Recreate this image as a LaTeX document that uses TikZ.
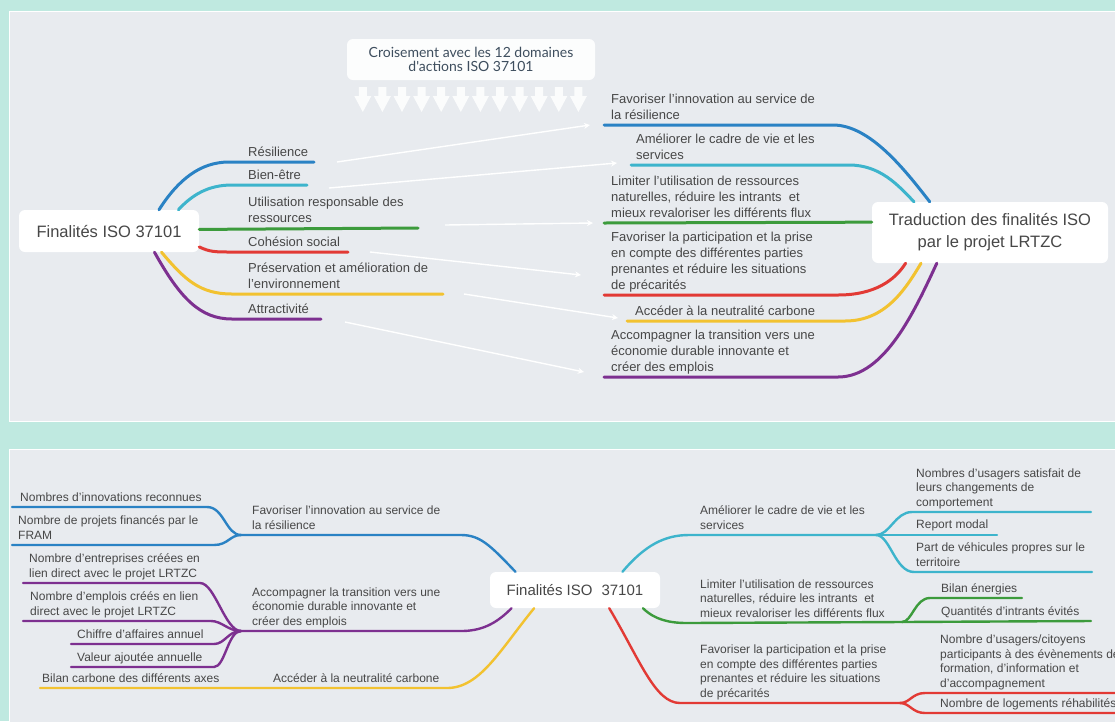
\documentclass[tikz,border=0pt]{standalone}
\usepackage{fontspec}
\setmainfont{Liberation Sans}
\newfontfamily\latofont{Lato}
\usetikzlibrary{arrows.meta}

\definecolor{menthe}{HTML}{BFE9E0}
\definecolor{panneau}{HTML}{E8EBEF}
\definecolor{bleu}{HTML}{2A82C4}
\definecolor{turq}{HTML}{3DB4CC}
\definecolor{vert}{HTML}{3C9B3C}
\definecolor{rouge}{HTML}{E23A35}
\definecolor{jaune}{HTML}{F2C230}
\definecolor{violet}{HTML}{7D3090}
\definecolor{texte}{HTML}{474747}
\definecolor{titre}{HTML}{3E4E5E}

\begin{document}
\begin{tikzpicture}[x=1pt, y=-1pt,
    boite/.style={fill=white, rounded corners=6pt, inner sep=0pt, align=center, text=texte},
    etiq/.style={anchor=south west, inner sep=0pt, align=left, text=texte,
        font=\fontsize{13}{16}\selectfont, execute at end node=\strut},
    etiqb/.style={etiq, font=\fontsize{12}{14.5}\selectfont},
    branche/.style={line width=3pt, line cap=round},
    brancheb/.style={line width=2.4pt, line cap=round},
    lien/.style={white, line width=1.4pt, -{Stealth[length=6pt,width=6pt]}}]

    % 背景
    \fill[menthe] (0,0) rectangle (1115,721);
    \useasboundingbox (0,0) rectangle (1115,721);
    \filldraw[fill=panneau, draw=white, line width=1pt] (9,11) rectangle (1125,421);
    \filldraw[fill=panneau, draw=white, line width=1pt] (9,449) rectangle (1125,730);

    % ===== 上图 =====
    \node[boite, minimum width=180pt, minimum height=42pt,
        font=\fontsize{16.5}{20}\selectfont] (fin) at (109,231) {Finalités ISO 37101};
    \node[boite, minimum width=236pt, minimum height=61pt,
        font=\fontsize{16.5}{22}\selectfont] (trad) at (990,232.5)
        {Traduction des finalités ISO\\par le projet LRTZC};
    \node[boite, fill opacity=0.9, text opacity=1, minimum width=248pt, minimum height=41pt,
        font=\latofont\fontsize{14}{14.5}\selectfont, text=titre] (crois) at (471,59.5)
        {Croisement avec les 12 domaines\\d'actions ISO 37101};

    % 12 个向下箭头
    \foreach \i in {0,...,11}
    {
        \pgfmathsetmacro\ax{362.8+19.6*\i}
        \fill[white, opacity=0.85] (\ax-4,87) -- (\ax+4,87) -- (\ax+4,96) -- (\ax+8.5,96)
            -- (\ax,112) -- (\ax-8.5,96) -- (\ax-4,96) -- cycle;
    }

    % 左边的分支
    \coordinate (res-e) at (314,162);
    \coordinate (bien-e) at (307,185);
    \coordinate (util-e) at (418,228);
    \coordinate (cohes-e) at (348,252);
    \coordinate (preserv-e) at (443,294);
    \coordinate (attract-e) at (321,319);
    \draw[branche, bleu] (fin.23.6) .. controls (178,180) and (200,162) .. (229,162) -- (res-e);
    \draw[branche, turq] (fin.17.65) .. controls (192,195) and (208,185) .. (232,185) -- (bien-e);
    \draw[branche, vert] (fin.1.9) -- (util-e);
    \draw[branche, rouge] (fin.-10.7) .. controls (210,252) and (215,252) .. (232,252) -- (cohes-e);
    \draw[branche, jaune] (fin.-22) .. controls (185,280) and (200,294) .. (232,294) -- (preserv-e);
    \draw[branche, violet] (fin.-25) .. controls (180,298) and (200,319) .. (232,319) -- (attract-e);

    \node[etiq] (res) at (248,161) {Résilience};
    \node[etiq] (bien) at (248,184) {Bien-être};
    \node[etiq] (util) at (248,227) {Utilisation responsable des\\ressources};
    \node[etiq] (cohes) at (248,251) {Cohésion social};
    \node[etiq] (preserv) at (248,293) {Préservation et amélioration de\\l'environnement};
    \node[etiq] (attract) at (248,318) {Attractivité};

    % 右边的分支
    \coordinate (innov-w) at (604,125);
    \coordinate (cadre-w) at (631,165);
    \coordinate (limit-w) at (604,223);
    \coordinate (partic-w) at (604,295);
    \coordinate (carbone-w) at (627,321);
    \coordinate (accomp-w) at (604,377);
    \draw[branche, bleu] (innov-w) -- (833,125) .. controls (870,125) and (905,170) .. (trad.153.1);
    \draw[branche, turq] (cadre-w) -- (849,165) .. controls (880,165) and (898,185) .. (trad.158.6);
    \draw[branche, vert] (limit-w) -- (trad.175.4);
    \draw[branche, rouge] (partic-w) -- (838,295) .. controls (875,295) and (895,280) .. (trad.200.9);
    \draw[branche, jaune] (carbone-w) -- (845,321) .. controls (885,321) and (905,290) .. (trad.204.5);
    \draw[branche, violet] (accomp-w) -- (838,377) .. controls (885,377) and (915,310) .. (trad.210.9);

    \node[etiq] (innov) at (611,124) {Favoriser l'innovation au service de\\la résilience};
    \node[etiq] (cadre) at (636,164) {Améliorer le cadre de vie et les\\services};
    \node[etiq] (limit) at (611,222) {Limiter l'utilisation de ressources\\naturelles, réduire les intrants\ \ et\\mieux revaloriser les différents flux};
    \node[etiq] (partic) at (611,294) {Favoriser la participation et la prise\\en compte des différentes parties\\prenantes et réduire les situations\\de précarités};
    \node[etiq] (carbone) at (635,320) {Accéder à la neutralité carbone};
    \node[etiq] (accomp) at (611,376) {Accompagner la transition vers une\\économie durable innovante et\\créer des emplois};

    % 白色箭头
    \draw[lien] ([xshift=23pt]res-e) -- ([xshift=-14pt]innov-w);
    \draw[lien] ([xshift=22pt,yshift=-3pt]bien-e) -- ([xshift=-14pt,yshift=2pt]cadre-w);
    \draw[lien] ([xshift=27pt,yshift=3pt]util-e) -- ([xshift=-11pt]limit-w);
    \draw[lien] ([xshift=22pt]cohes-e) -- ([xshift=-23pt,yshift=20pt]partic-w);
    \draw[lien] ([xshift=21pt]preserv-e) -- ([xshift=-9pt,yshift=3pt]carbone-w);
    \draw[lien] ([xshift=24pt,yshift=-3pt]attract-e) -- ([xshift=-20pt,yshift=5pt]accomp-w);

    % ===== 下图 =====
    \node[boite, minimum width=170pt, minimum height=36pt,
        font=\fontsize{15}{18}\selectfont] (cen) at (575,590) {Finalités ISO\hspace{0.6em}37101};

    % 左：蓝
    \coordinate (innovb-f) at (241,535);
    \coordinate (nbinno-w) at (12,507);
    \coordinate (nbproj-w) at (12,545);
    \draw[brancheb, bleu] (cen.163.6) .. controls (490,545) and (480,535) .. (461,535) -- (innovb-f);
    \draw[brancheb, bleu] (innovb-f) .. controls (226,535) and (224,507) .. (207,507) -- (nbinno-w);
    \draw[brancheb, bleu] (innovb-f) .. controls (230,535) and (228,545) .. (214,545) -- (nbproj-w);

    % 左：紫
    \coordinate (accompb-f) at (241,631);
    \coordinate (entrep-w) at (23,583);
    \coordinate (emplois-w) at (23,621);
    \coordinate (chiffre-w) at (71,644);
    \coordinate (valeur-w) at (71,667);
    \draw[brancheb, violet] (cen.196.4) .. controls (495,625) and (480,631) .. (461,631) -- (accompb-f);
    \draw[brancheb, violet] (accompb-f) .. controls (225,631) and (215,583) .. (200,583) -- (entrep-w);
    \draw[brancheb, violet] (accompb-f) .. controls (228,631) and (222,621) .. (211,621) -- (emplois-w);
    \draw[brancheb, violet] (accompb-f) .. controls (228,631) and (225,644) .. (214,644) -- (chiffre-w);
    \draw[brancheb, violet] (accompb-f) .. controls (228,631) and (225,667) .. (214,667) -- (valeur-w);

    % 左：黄
    \coordinate (bilanc-w) at (40,688);
    \draw[brancheb, jaune] (cen.204.8) .. controls (500,650) and (480,688) .. (447,688) -- (bilanc-w);

    % 右：青
    \coordinate (cadreb-f) at (876,535);
    \coordinate (usagers-e) at (1091,512);
    \coordinate (report-e) at (997,535);
    \coordinate (vehic-e) at (1092,572);
    \draw[brancheb, turq] (cen.21) .. controls (645,545) and (665,535) .. (689,535) -- (cadreb-f);
    \draw[brancheb, turq] (cadreb-f) .. controls (890,535) and (895,512) .. (912,512) -- (usagers-e);
    \draw[brancheb, turq] (cadreb-f) -- (report-e);
    \draw[brancheb, turq] (cadreb-f) .. controls (890,535) and (895,572) .. (914,572) -- (vehic-e);

    % 右：绿
    \coordinate (limitb-f) at (902,622);
    \coordinate (bilane-e) at (1022,598);
    \coordinate (quant-e) at (1091,621);
    \draw[brancheb, vert] (cen.-15.5) .. controls (655,620) and (670,623) .. (687,623) -- (limitb-f);
    \draw[brancheb, vert] (limitb-f) .. controls (912,622) and (915,598) .. (930,598) -- (bilane-e);
    \draw[brancheb, vert] (limitb-f) -- (quant-e);

    % 右：红
    \coordinate (participb-f) at (900,703);
    \coordinate (citoy-e) at (1125,693);
    \coordinate (logem-e) at (1125,713);
    \draw[brancheb, rouge] (cen.-28.6) .. controls (640,660) and (655,703) .. (680,703) -- (participb-f);
    \draw[brancheb, rouge] (participb-f) .. controls (910,703) and (912,693) .. (925,693) -- (citoy-e);
    \draw[brancheb, rouge] (participb-f) .. controls (910,703) and (912,713) .. (925,713) -- (logem-e);

    % 下图文字
    \node[etiqb] (innovb) at (252,534) {Favoriser l'innovation au service de\\la résilience};
    \node[etiqb] (accompb) at (252,630) {Accompagner la transition vers une\\économie durable innovante et\\créer des emplois};
    \node[etiqb] (carboneb) at (273,687) {Accéder à la neutralité carbone};
    \node[etiqb] (nbinno) at (20,506) {Nombres d'innovations reconnues};
    \node[etiqb] (nbproj) at (18,544) {Nombre de projets financés par le\\FRAM};
    \node[etiqb] (entrep) at (29,582) {Nombre d'entreprises créées en\\lien direct avec le projet LRTZC};
    \node[etiqb] (emplois) at (30,620) {Nombre d'emplois créés en lien\\direct avec le projet LRTZC};
    \node[etiqb] (chiffre) at (77,643) {Chiffre d'affaires annuel};
    \node[etiqb] (valeur) at (77,666) {Valeur ajoutée annuelle};
    \node[etiqb] (bilanc) at (42,687) {Bilan carbone des différents axes};

    \node[etiqb] (cadreb) at (700,534) {Améliorer le cadre de vie et les\\services};
    \node[etiqb] (limitb) at (700,622) {Limiter l'utilisation de ressources\\naturelles, réduire les intrants\ \ et\\mieux revaloriser les différents flux};
    \node[etiqb] (participb) at (700,702) {Favoriser la participation et la prise\\en compte des différentes parties\\prenantes et réduire les situations\\de précarités};
    \node[etiqb] (usagers) at (916,511) {Nombres d'usagers satisfait de\\leurs changements de\\comportement};
    \node[etiqb] (report) at (916,533) {Report modal};
    \node[etiqb] (vehic) at (916,571) {Part de véhicules propres sur le\\territoire};
    \node[etiqb] (bilane) at (941,597) {Bilan énergies};
    \node[etiqb] (quant) at (941,620) {Quantités d'intrants évités};
    \node[etiqb] (citoy) at (940,692) {Nombre d'usagers/citoyens\\participants à des évènements de\\formation, d'information et\\d'accompagnement};
    \node[etiqb] (logem) at (940,712) {Nombre de logements réhabilités};
\end{tikzpicture}
\end{document}
